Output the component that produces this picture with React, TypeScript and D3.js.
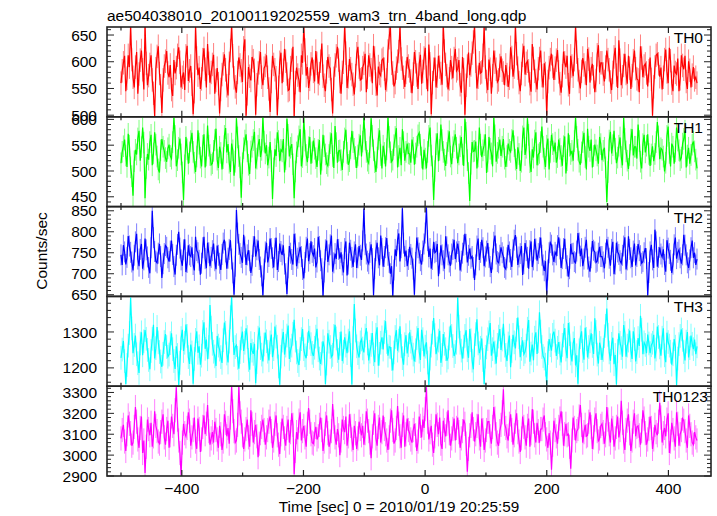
import React from "react";
import * as d3 from "d3";

const TITLE = "ae504038010_20100119202559_wam3_trn_4band_long.qdp";
const X_LABEL = "Time [sec] 0 = 2010/01/19 20:25:59";
const Y_LABEL = "Counts/sec";
const X_TICK_LABELS = [-400, -200, 0, 200, 400];
const X_DOMAIN = [-523, 470];
const TIME_FIRST = -500;
const TIME_LAST = 447;

const TH0 = [
  560,583, 598,611, 545,569, 612,590, 668,604, 571,552, 590,618, 540,577, 603,621, 585,548, 670,597, 556,574, 595,612, 566,541, 498,587, 610,629, 578,555, 504,566, 592,601, 620,579,
  571,594, 548,536, 603,578, 589,612, 627,599, 552,571, 580,547, 611,630, 564,583, 592,558, 502,544, 668,607, 575,589, 549,568, 604,625, 586,552, 633,597, 561,580, 595,613, 540,565,
  588,559, 503,548, 576,596, 614,585, 555,537, 597,621, 669,611, 570,553, 542,580, 608,594, 583,562, 626,642, 499,540, 590,573, 565,609, 602,584, 501,557, 579,598, 618,571, 556,588,
  593,612, 571,549, 506,563, 611,595, 585,570, 500,552, 599,617, 560,584, 624,601, 577,546, 548,589, 603,628, 498,561, 589,575, 566,543, 612,598, 667,622, 574,590, 551,567, 596,608,
  582,563, 620,597, 559,578, 601,634, 573,556, 545,581, 609,592, 587,548, 503,569, 594,611, 628,603, 563,540, 580,599, 669,616, 551,572, 605,587, 576,558, 539,574, 615,628, 590,566,
  568,589, 597,615, 543,571, 612,594, 585,560, 630,607, 558,537, 591,578, 574,603, 606,586, 547,566, 620,645, 668,597, 579,554, 561,588, 601,619, 666,605, 588,571, 553,580, 609,592,
  583,564, 541,577, 618,600, 575,549, 596,613, 559,582, 607,626, 571,545, 632,596, 502,561, 586,608, 552,573, 611,590, 578,557, 670,620, 595,574, 548,568, 603,589, 569,606, 624,583,
  587,603, 557,542, 609,585, 501,556, 592,617, 575,594, 616,637, 668,601, 550,571, 598,579, 581,612, 667,590, 563,547, 604,586, 540,574, 621,599, 586,562, 566,593, 610,584, 579,556,
  594,576, 553,569, 627,608, 572,590, 669,615, 588,561, 545,578, 612,630, 576,597, 601,583, 559,544, 633,606, 582,565, 548,587, 606,621, 574,552, 597,578, 500,563, 589,604, 615,591,
  566,588, 603,622, 581,559, 542,574, 619,598, 590,611, 557,540, 611,592, 573,604, 668,618, 585,563, 550,582, 607,594, 579,556, 624,605, 561,587, 596,572, 543,565, 613,631, 580,598,
  598,577, 563,590, 621,604, 585,562, 547,580, 609,626, 575,551, 640,603, 556,572, 593,615, 578,559, 611,588, 549,574, 602,621, 587,568, 566,543, 629,607, 571,592, 596,579, 554,583,
  608,567, 499,553, 590,612, 615,596, 572,589, 548,571, 604,623, 581,560, 626,602, 560,545, 593,580, 577,606, 545,568, 612,593, 586,611, 563,549, 601,584, 552,575, 590,566, 571,560,
];

const TH1 = [
  515,537, 548,561, 530,508, 572,549, 507,490, 452,519, 541,532, 563,578, 520,546, 584,555, 447,506, 533,522, 556,570, 511,534, 575,551, 528,503, 497,540, 562,547, 539,525, 518,544,
  551,529, 524,556, 603,568, 509,521, 545,563, 532,497, 444,511, 566,542, 514,536, 558,574, 537,516, 498,528, 579,553, 526,509, 549,571, 507,530, 588,549, 531,512, 515,539, 560,582,
  522,506, 547,535, 503,525, 568,583, 536,552, 516,498, 553,540, 491,518, 602,565, 529,507, 448,515, 544,559, 571,538, 512,494, 538,547, 560,576, 505,524, 549,562, 527,541, 604,557,
  534,550, 511,526, 556,519, 446,505, 542,529, 575,558, 519,541, 538,562, 497,523, 601,570, 528,545, 552,513, 447,499, 536,548, 567,581, 509,527, 603,559, 531,517, 546,566, 514,536,
  559,543, 525,508, 541,560, 493,522, 570,548, 532,515, 510,531, 554,573, 529,506, 587,554, 516,539, 540,521, 502,537, 563,580, 535,512, 519,544, 578,556, 543,527, 506,530, 551,569,
  528,557, 605,561, 537,520, 515,546, 602,568, 540,517, 498,526, 562,579, 531,505, 549,535, 509,542, 604,566, 536,518, 522,550, 566,583, 507,529, 545,511, 581,556, 520,537, 553,534,
  533,516, 561,545, 512,534, 547,569, 574,551, 526,503, 541,524, 505,537, 568,584, 530,509, 444,500, 552,573, 519,541, 590,560, 537,522, 510,535, 558,577, 528,513, 546,558, 571,545,
  515,532, 548,566, 532,510, 601,574, 521,496, 442,514, 556,538, 539,557, 505,528, 584,551, 527,540, 550,571, 496,519, 566,543, 534,509, 603,569, 518,535, 545,561, 529,547, 562,524,
  508,529, 553,541, 537,560, 579,548, 522,504, 546,533, 500,518, 567,584, 531,545, 602,570, 517,498, 542,526, 559,575, 511,532, 535,556, 586,547, 524,508, 549,563, 503,537, 570,552,
  538,555, 516,527, 561,543, 529,510, 548,567, 495,521, 573,549, 533,539, 520,558, 604,566, 541,518, 512,536, 556,574, 527,503, 582,547, 539,561, 507,529, 551,540, 530,514, 566,552,
  521,539, 545,507, 440,498, 559,576, 534,550, 578,543, 515,526, 549,565, 527,511, 603,562, 538,520, 504,531, 561,581, 530,547, 547,524, 590,558, 518,505, 552,570, 536,549, 571,533,
  510,532, 548,519, 533,556, 595,567, 523,544, 541,528, 499,516, 568,586, 535,509, 553,547, 514,538, 584,559, 540,521, 526,553, 562,578, 507,530, 545,514, 531,551, 557,538, 522,505,
];

const TH2 = [
  745,721, 768,752, 722,739, 790,766, 751,728, 708,744, 776,795, 735,718, 758,771, 712,733, 784,757, 740,715, 701,762, 850,786, 753,730, 726,749, 771,741, 690,724, 748,767, 763,738,
  729,754, 779,746, 717,698, 744,770, 800,761, 733,719, 757,782, 704,727, 768,745, 741,763, 722,708, 788,755, 750,732, 698,725, 762,788, 736,713, 774,750, 718,739, 755,772, 731,711,
  767,744, 725,709, 746,773, 781,752, 712,737, 758,780, 735,702, 650,718, 852,797, 770,748, 739,726, 793,764, 721,745, 756,731, 702,720, 765,789, 741,757, 779,734, 716,695, 648,711,
  752,774, 727,741, 784,760, 738,715, 760,786, 709,729, 772,753, 745,768, 723,700, 652,714, 766,749, 734,722, 795,771, 718,737, 750,764, 741,710, 689,727, 763,784, 730,748, 777,751,
  743,760, 715,728, 788,765, 731,712, 647,704, 757,779, 728,745, 769,791, 705,726, 748,735, 782,758, 736,751, 721,703, 760,777, 696,723, 774,756, 739,716, 752,770, 714,738, 766,744,
  733,778, 855,769, 747,730, 724,751, 770,736, 649,712, 755,774, 738,720, 791,760, 717,741, 762,785, 744,727, 700,718, 646,709, 758,742, 781,796, 729,762, 856,773, 741,755, 718,734,
  764,746, 737,711, 650,727, 786,762, 749,731, 722,754, 771,797, 858,779, 740,760, 712,734, 776,750, 753,771, 694,725, 768,745, 731,712, 789,764, 745,728, 719,747, 758,781, 735,752,
  772,753, 708,730, 749,768, 795,770, 727,744, 760,737, 741,715, 685,721, 766,784, 733,751, 781,762, 718,740, 754,773, 739,717, 702,735, 775,791, 747,729, 726,744, 763,750, 740,715,
  711,738, 769,752, 734,716, 757,780, 792,763, 721,740, 748,766, 697,724, 773,755, 739,712, 755,777, 716,733, 783,759, 731,748, 762,786, 744,721, 707,730, 651,709, 750,774, 768,745,
  728,751, 745,767, 787,759, 714,736, 760,783, 736,719, 693,712, 771,748, 749,729, 726,754, 797,773, 742,760, 718,735, 763,781, 735,716, 705,738, 778,756, 752,727, 730,749, 764,741,
  741,728, 713,749, 782,763, 737,719, 758,776, 699,723, 774,752, 746,731, 725,744, 766,787, 710,733, 789,758, 738,716, 754,772, 720,741, 771,755, 743,725, 729,750, 761,736, 648,703,
  752,769, 733,714, 805,776, 717,739, 763,747, 740,758, 722,705, 780,761, 748,732, 702,723, 769,786, 736,751, 757,738, 724,745, 793,768, 745,726, 714,733, 762,779, 738,750, 721,735,
];

const TH3 = [
  1228,1251, 1275,1219, 1155,1208, 1262,1297, 1395,1310, 1241,1264, 1290,1238, 1213,1186, 1268,1299, 1235,1274, 1305,1281, 1250,1222, 1196,1247, 1281,1320, 1226,1255, 1314,1271, 1244,1218, 1203,1239, 1272,1294, 1258,1231,
  1237,1269, 1296,1252, 1219,1197, 1260,1236, 1152,1214, 1283,1306, 1247,1270, 1321,1289, 1230,1211, 1265,1243, 1156,1225, 1278,1302, 1242,1260, 1209,1234, 1300,1327, 1253,1279, 1224,1258, 1375,1312, 1267,1245, 1232,1205,
  1289,1262, 1251,1230, 1214,1277, 1326,1298, 1240,1215, 1273,1341, 1398,1305, 1236,1258, 1263,1228, 1198,1244, 1282,1301, 1247,1270, 1310,1286, 1222,1195, 1269,1248, 1239,1267, 1157,1216, 1284,1312, 1255,1237, 1218,1265,
  1298,1274, 1245,1221, 1271,1293, 1230,1252, 1315,1287, 1259,1204, 1153,1231, 1276,1300, 1237,1262, 1290,1318, 1225,1249, 1262,1295, 1334,1276, 1243,1219, 1208,1253, 1280,1308, 1252,1235, 1227,1266, 1303,1284, 1266,1242,
  1233,1256, 1287,1309, 1249,1226, 1211,1240, 1274,1257, 1155,1212, 1296,1273, 1258,1231, 1236,1289, 1320,1282, 1247,1223, 1267,1301, 1219,1245, 1285,1262, 1241,1276, 1302,1236, 1154,1283, 1378,1304, 1260,1241, 1229,1271,
  1279,1254, 1243,1290, 1311,1268, 1221,1245, 1264,1297, 1238,1216, 1292,1313, 1206,1239, 1270,1285, 1251,1300, 1330,1272, 1234,1259, 1257,1225, 1193,1243, 1286,1305, 1248,1276, 1316,1261, 1227,1209, 1266,1291, 1240,1263,
  1299,1273, 1256,1237, 1218,1249, 1283,1311, 1245,1222, 1306,1280, 1232,1259, 1271,1215, 1151,1226, 1262,1298, 1339,1291, 1238,1254, 1276,1303, 1214,1236, 1294,1267, 1252,1220, 1229,1282, 1318,1289, 1261,1233, 1244,1270,
  1396,1315, 1270,1248, 1226,1259, 1289,1305, 1249,1228, 1308,1277, 1220,1196, 1263,1294, 1335,1268, 1241,1256, 1282,1222, 1155,1231, 1257,1280, 1299,1325, 1234,1252, 1273,1243, 1212,1264, 1287,1308, 1250,1279, 1323,1262,
  1236,1219, 1268,1290, 1202,1247, 1292,1271, 1254,1306, 1340,1285, 1230,1253, 1277,1238, 1245,1262, 1309,1333, 1217,1240, 1265,1221, 1284,1299, 1239,1274, 1355,1301, 1258,1233, 1226,1209, 1153,1241, 1280,1263, 1248,1292,
  1301,1276, 1233,1256, 1272,1240, 1215,1264, 1290,1311, 1251,1227, 1325,1294, 1240,1218, 1268,1283, 1207,1235, 1156,1249, 1285,1302, 1247,1223, 1312,1281, 1229,1258, 1274,1296, 1261,1239, 1338,1300, 1237,1212, 1270,1255,
  1222,1250, 1288,1317, 1365,1292, 1243,1220, 1267,1284, 1210,1236, 1154,1247, 1296,1270, 1255,1231, 1319,1297, 1231,1262, 1276,1304, 1249,1225, 1302,1280, 1218,1244, 1283,1261, 1345,1306, 1238,1271, 1264,1241, 1293,1268,
  1241,1263, 1270,1292, 1226,1251, 1315,1286, 1257,1234, 1284,1310, 1235,1216, 1298,1272, 1262,1245, 1209,1238, 1280,1259, 1152,1226, 1266,1289, 1307,1278, 1244,1221, 1273,1300, 1229,1255, 1290,1267, 1252,1279, 1238,1260,
];

const TH0123 = [
  3080,3120, 3145,3065, 3020,3100, 3190,3150, 3105,3045, 3060,3135, 3230,3160, 3075,3035, 3130,3185, 3010,3070, 2915,3040, 3170,3125, 3095,3155, 3040,3090, 3210,3140, 3115,3065, 3055,3110, 3160,3195, 3085,3050, 3125,3165,
  3035,3095, 3185,3140, 3100,3215, 3325,3170, 3070,3010, 2905,3060, 3150,3105, 3090,3130, 3205,3165, 3045,3085, 3120,3180, 3065,3030, 3175,3125, 3015,3075, 3135,3190, 3100,3150, 3240,3115, 3050,3080, 3110,3060, 3160,3120,
  3075,3035, 3140,3100, 3025,3065, 3195,3155, 3090,3130, 3055,3180, 3330,3210, 3115,3060, 3070,3145, 3328,3200, 3160,3095, 3030,3075, 3125,3170, 3085,3040, 3215,3150, 3060,3110, 3145,3090, 2990,3055, 3105,3135, 3170,3120,
  3050,3085, 3120,3160, 3185,3115, 3035,3070, 3150,3190, 3095,3050, 3005,3100, 3175,3135, 3080,3045, 3130,3170, 3060,3110, 3200,3145, 2908,3020, 3110,3075, 3165,3205, 3070,3115, 3140,3085, 3040,3150, 3225,3160, 3100,3060,
  3055,3100, 3135,3075, 3090,3145, 3180,3120, 3020,3065, 3150,3190, 3105,3040, 3065,3115, 3245,3160, 3085,3050, 3125,3095, 3000,3070, 3170,3130, 3110,3185, 3045,3090, 3195,3140, 3075,3025, 3140,3105, 3030,3080, 3160,3125,
  3095,3140, 3050,3105, 3210,3165, 3115,3060, 2985,3090, 3155,3200, 3080,3045, 3135,3180, 3060,3110, 3190,3125, 3100,3070, 3025,3085, 3165,3215, 3120,3055, 3070,3130, 3235,3150, 3090,3035, 3145,3190, 3040,3100, 3175,3120,
  3105,3075, 3060,3120, 3150,3095, 3020,3065, 3185,3140, 3085,3170, 3130,3220, 3325,3160, 3075,3110, 3140,3050, 3010,3090, 3195,3145, 3100,3180, 3055,3030, 3165,3120, 3090,3150, 3215,3105, 3045,3080, 3125,3175, 3070,3130,
  3180,3110, 3035,3080, 3115,3170, 3150,3055, 2920,3030, 3095,3140, 3205,3125, 3065,3100, 3140,3195, 3080,3040, 3175,3120, 3025,3070, 3120,3160, 3160,3090, 3055,3135, 3230,3175, 3100,3060, 3045,3115, 3145,3205, 3315,3150,
  3130,3090, 3070,3150, 3195,3120, 3050,3095, 3160,3200, 3110,3065, 3015,3080, 3185,3135, 3085,3045, 3140,3175, 3040,3105, 3220,3160, 3095,3060, 3155,3115, 3060,3125, 3125,3170, 3190,3100, 3075,3035, 3105,3060, 2930,3050,
  3165,3120, 3090,3055, 3135,3175, 3210,3150, 3045,3100, 3150,3095, 3100,3040, 2935,3070, 3180,3130, 3070,3115, 3125,3185, 3240,3145, 3060,3110, 3145,3090, 3095,3160, 3205,3135, 3030,3085, 3170,3200, 3115,3065, 3080,3140,
  3150,3110, 3055,3095, 3230,3170, 3100,3060, 3175,3130, 3040,3080, 3135,3185, 3085,3120, 3260,3155, 3065,3025, 3120,3165, 3195,3105, 3020,3070, 3160,3200, 3090,3135, 3140,3095, 3050,3115, 3215,3175, 3105,3050, 3075,3125,
  3185,3130, 3030,3075, 3145,3110, 3095,3160, 3250,3180, 3060,3105, 3130,3090, 3170,3200, 3010,3065, 3155,3120, 3080,3040, 3205,3150, 3045,3100, 3120,3175, 3165,3115, 3070,3035, 3190,3140, 3100,3060, 3050,3110, 3085,3070,
];

const BAND_NAMES = ["TH0", "TH1", "TH2", "TH3", "TH0123"];
const SERIES = [TH0, TH1, TH2, TH3, TH0123];
const ERRORS = [22, 21, 25, 33, 58];
const Y_DOMAINS = [
  [497, 665],
  [431, 605],
  [646, 860],
  [1149, 1399],
  [2900, 3330],
];
const Y_MAJOR_TICKS = [
  [500, 550, 600, 650],
  [450, 500, 550, 600],
  [650, 700, 750, 800, 850],
  [1200, 1300],
  [2900, 3000, 3100, 3200, 3300],
];
const Y_MINOR_STEP = [10, 10, 10, 20, 20];

const COLORS = ["#ff0000", "#00ff00", "#0000ff", "#00ffff", "#ff00ff"];
const LABEL_RIGHT = [703, 703, 703, 703, 708];

const W = 717;
const H = 516;
const LEFT = 107;
const RIGHT = 711;
const TOP = 27;
const BOTTOM = 476;
const FONT = "'Liberation Sans', Arial, Helvetica, sans-serif";
const FRAME = "#222";

export default function App() {
  const x = d3.scaleLinear().domain(X_DOMAIN).range([LEFT, RIGHT]);
  const panelH = (BOTTOM - TOP) / SERIES.length;
  const xMinor = d3.range(-500, 470, 100);

  return (
    <svg
      width={W}
      height={H}
      style={{ position: "absolute", left: 0, top: 0, background: "#fff" }}
      fontFamily={FONT}
    >
      <defs>
        {SERIES.map((_, k) => (
          <clipPath id={`clip${k}`} key={k}>
            <rect x={LEFT} y={TOP + k * panelH} width={RIGHT - LEFT} height={panelH} />
          </clipPath>
        ))}
      </defs>
      <text x={107} y={20.5} fontSize={15.5} fill="#000">
        {TITLE}
      </text>
      {SERIES.map((vals, k) => {
        const y0 = TOP + k * panelH;
        const y1 = y0 + panelH;
        const y = d3.scaleLinear().domain(Y_DOMAINS[k]).range([y1, y0]);
        const tScale = d3.scaleLinear().domain([0, vals.length - 1]).range([TIME_FIRST, TIME_LAST]);
        const pts = vals.map((v, i) => [tScale(i), v] as [number, number]);
        const line = d3
          .line<[number, number]>()
          .x((d) => x(d[0]))
          .y((d) => y(d[1]));
        const err = ERRORS[k];
        const errPath = pts
          .map((d) => `M${x(d[0]).toFixed(2)},${y(d[1] - err).toFixed(2)}V${y(d[1] + err).toFixed(2)}`)
          .join("");
        const [dmin, dmax] = Y_DOMAINS[k];
        const step = Y_MINOR_STEP[k];
        const minorTicks = d3.range(Math.ceil(dmin / step) * step, dmax + 0.001, step);
        const major = new Set(Y_MAJOR_TICKS[k]);
        return (
          <g key={k}>
            <g clipPath={`url(#clip${k})`}>
              <path d={errPath} stroke={COLORS[k]} strokeOpacity={0.5} strokeWidth={1} fill="none" />
              <path d={line(pts) || ""} stroke={COLORS[k]} strokeWidth={1.2} fill="none" />
            </g>
            {minorTicks.map((v) => {
              const len = major.has(v) ? 7 : 4;
              const yy = y(v);
              return (
                <g key={`yt${v}`} stroke={FRAME} strokeWidth={1}>
                  <line x1={LEFT} x2={LEFT + len} y1={yy} y2={yy} />
                  <line x1={RIGHT} x2={RIGHT - len} y1={yy} y2={yy} />
                </g>
              );
            })}
            {xMinor.map((t) => {
              const len = t % 200 === 0 ? 6 : 3.5;
              const xx = x(t);
              return (
                <g key={`xt${t}`} stroke={FRAME} strokeWidth={1.2}>
                  <line x1={xx} x2={xx} y1={y0} y2={y0 + len} />
                  <line x1={xx} x2={xx} y1={y1} y2={y1 - len} />
                </g>
              );
            })}
            <rect
              x={LEFT}
              y={y0}
              width={RIGHT - LEFT}
              height={panelH}
              fill="none"
              stroke={FRAME}
              strokeWidth={1.6}
            />
            {Y_MAJOR_TICKS[k].map((v) => (
              <text
                key={`yl${v}`}
                x={97}
                y={y(v)}
                dy="0.36em"
                textAnchor="end"
                fontSize={15.5}
                fill="#000"
              >
                {v}
              </text>
            ))}
            <text x={LABEL_RIGHT[k]} y={y0 + 16} textAnchor="end" fontSize={15.5} fill="#000">
              {BAND_NAMES[k]}
            </text>
          </g>
        );
      })}
      {X_TICK_LABELS.map((t) => (
        <text key={`xl${t}`} x={x(t)} y={493.5} textAnchor="middle" fontSize={15.5} fill="#000">
          {t < 0 ? `\u2212${Math.abs(t)}` : `${t}`}
        </text>
      ))}
      <text x={399} y={511.5} textAnchor="middle" fontSize={15.3} fill="#000">
        {X_LABEL}
      </text>
      <text
        transform={`translate(47,251) rotate(-90)`}
        textAnchor="middle"
        fontSize={15.5}
        fill="#000"
      >
        {Y_LABEL}
      </text>
    </svg>
  );
}
